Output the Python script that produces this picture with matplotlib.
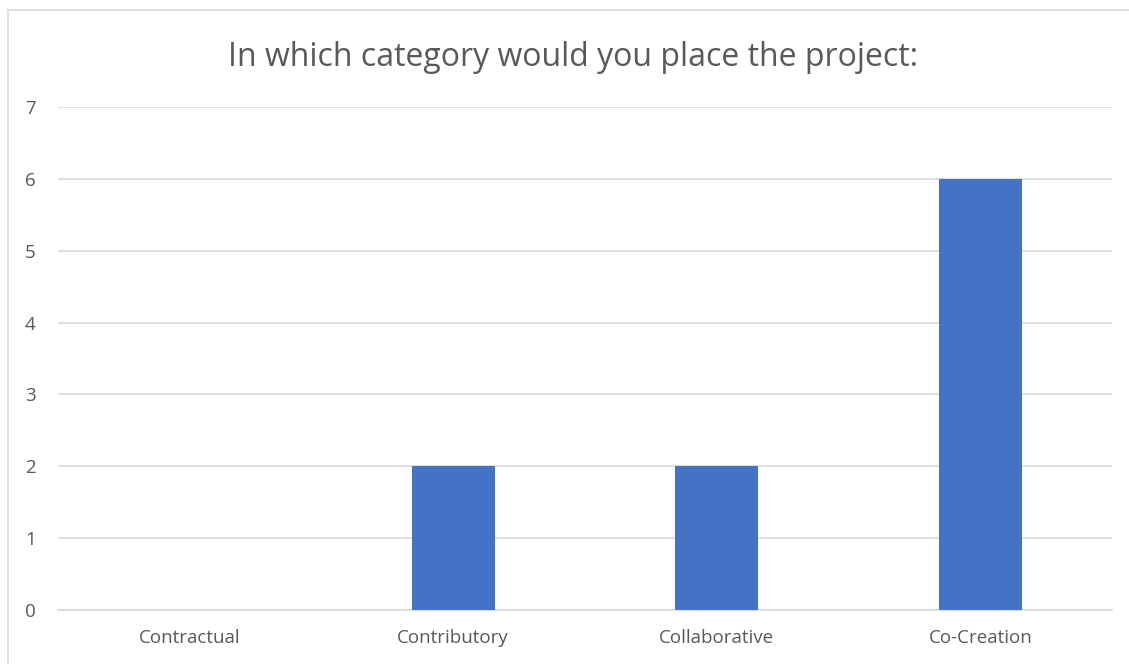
import matplotlib.pyplot as plt
from matplotlib.lines import Line2D

categories = ['Contractual', 'Contributory', 'Collaborative', 'Co-Creation']
counts = [0, 2, 2, 6]
y_ticks = [0, 1, 2, 3, 4, 5, 6, 7]

plt.rcParams['font.family'] = ['Open Sans', 'DejaVu Sans']

fig = plt.figure(figsize=(11.29, 6.64), dpi=100)
ax = fig.add_axes([58 / 1129, 1 - 610 / 664, 1054 / 1129, 503 / 664])

x = range(len(categories))
ax.bar(x, counts, width=0.315, color='#4472C4', zorder=3)

ax.set_xlim(-0.5, len(categories) - 0.5)
ax.set_ylim(0, 7)
ax.set_yticks(y_ticks)
ax.set_xticks(list(x))
ax.set_xticklabels(categories)
ax.grid(axis='y', color='#D9D9D9', linewidth=1.2, zorder=0)
for s in ['top', 'right', 'left']:
    ax.spines[s].set_visible(False)
ax.spines['bottom'].set_color('#D9D9D9')
ax.spines['bottom'].set_linewidth(1.2)
ax.tick_params(axis='both', length=0, labelsize=13.5, colors='#595959')
ax.tick_params(axis='y', pad=16)
ax.tick_params(axis='x', pad=14)

fig.text(0.508, 1 - 57 / 664, 'In which category would you place the project:',
         ha='center', va='center', fontsize=23, color='#595959')

# chart frame (top and left edges)
fig.add_artist(Line2D([8 / 1129, 1], [1 - 10 / 664, 1 - 10 / 664], color='#D9D9D9', lw=1.2))
fig.add_artist(Line2D([8 / 1129, 8 / 1129], [0, 1 - 10 / 664], color='#D9D9D9', lw=1.2))

fig.savefig('out.png', dpi=100)
